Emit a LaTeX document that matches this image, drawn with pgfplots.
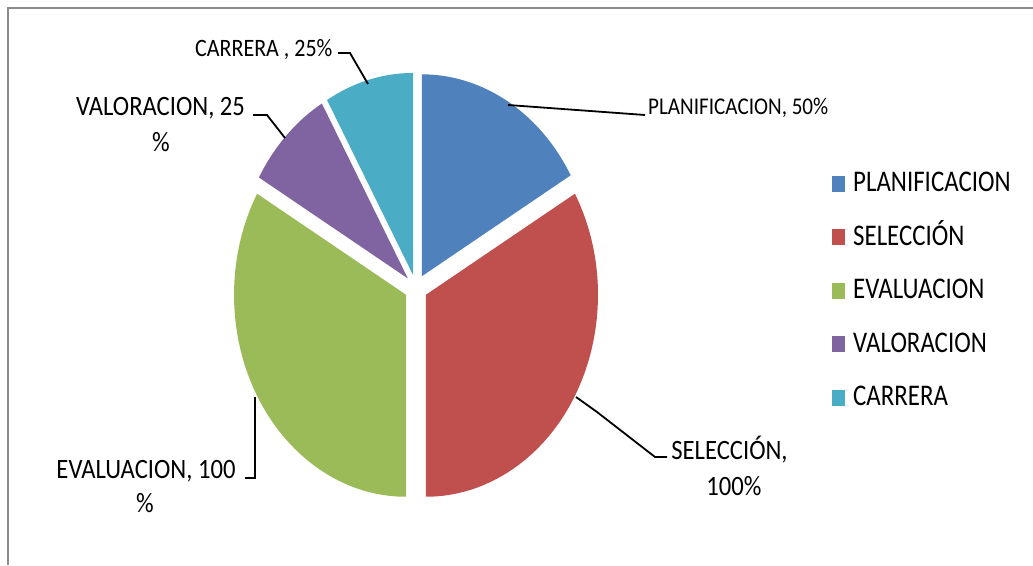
\documentclass[border=0pt]{standalone}
\usepackage{fontspec}
\setmainfont{Carlito}[FakeStretch=0.83]
\newfontfamily\labfont{Carlito}[FakeStretch=0.88]
\usepackage{pgfplots}
\pgfplotsset{compat=1.18}
\definecolor{cPlan}{HTML}{4F81BD}
\definecolor{cSel}{HTML}{C0504D}
\definecolor{cEval}{HTML}{9BBB59}
\definecolor{cVal}{HTML}{8064A2}
\definecolor{cCar}{HTML}{4BACC6}
\definecolor{frame}{HTML}{8C8C8C}
\begin{document}
\begin{tikzpicture}
\useasboundingbox (0,0) rectangle (1033pt,565pt);
\begin{axis}[x=1pt,y=1pt,xmin=0,xmax=1033,ymin=0,ymax=565,
  axis lines=none,clip=false]
% frame (top and left visible)
\draw[frame,line width=2pt] (axis cs:8,0) -- (axis cs:8,557) -- (axis cs:1040,557);
% pie slices: value / colour
\gdef\cum{0}
\foreach \v/\c in {50/cPlan,100/cSel,100/cEval,25/cVal,25/cCar}{
  \pgfmathsetmacro{\a}{90-\cum/300*360}
  \pgfmathsetmacro{\b}{90-(\cum+\v)/300*360}
  \pgfmathsetmacro{\m}{(\a+\b)/2}
  \pgfmathsetmacro{\ox}{416+11.5*cos(\m)}
  \pgfmathsetmacro{\oy}{277+13.5*sin(\m)}
  \edef\temp{\noexpand\fill[\c] (axis cs:\ox,\oy) -- ++(\a:172pt and 202pt) arc[start angle=\a, end angle=\b, x radius=172pt, y radius=202pt] -- cycle;}
  \temp
  \pgfmathsetmacro{\newcum}{\cum+\v}
  \global\let\cum\newcum
}
% leader lines
\draw[black,line width=1.8pt] (axis cs:508,460) -- (axis cs:645,450);
\draw[black,line width=1.8pt] (axis cs:338,512) -- (axis cs:350,512) -- (axis cs:368,481);
\draw[black,line width=1.8pt] (axis cs:253,450) -- (axis cs:267,450) -- (axis cs:285,427);
\draw[black,line width=2pt] (axis cs:245,87) -- (axis cs:255,87) -- (axis cs:255,168);
\draw[black,line width=1.8pt] (axis cs:576,168) -- (axis cs:597,153) -- (axis cs:655,108) -- (axis cs:667,108);
% data labels
\node[anchor=base west,inner sep=0pt,font=\labfont\fontsize{24}{28}\selectfont] at (axis cs:648,450) {PLANIFICACION, 50\%};
\node[anchor=base west,inner sep=0pt,font=\labfont\fontsize{25}{30}\selectfont] at (axis cs:195,508) {CARRERA , 25\%};
\node[anchor=base,inner sep=0pt,font=\labfont\fontsize{28}{32}\selectfont] at (axis cs:160.5,449) {VALORACION, 25};
\node[anchor=base,inner sep=0pt,font=\labfont\fontsize{28}{32}\selectfont] at (axis cs:161,413) {\%};
\node[anchor=base,inner sep=0pt,font=\labfont\fontsize{28}{32}\selectfont] at (axis cs:146,86) {EVALUACION, 100};
\node[anchor=base,inner sep=0pt,font=\labfont\fontsize{28}{32}\selectfont] at (axis cs:145,53) {\%};
\node[anchor=base,inner sep=0pt,font=\labfont\fontsize{28}{32}\selectfont] at (axis cs:729.5,105) {SELECCIÓN,};
\node[anchor=base,inner sep=0pt,font=\labfont\fontsize{28}{32}\selectfont] at (axis cs:734,70) {100\%};
% legend
\foreach \y/\c/\t in {373/cPlan/PLANIFICACION,319.5/cSel/SELECCIÓN,266/cEval/EVALUACION,212.5/cVal/VALORACION,159/cCar/CARRERA}{
  \edef\temp{\noexpand\fill[\c] (axis cs:832,\y) rectangle ++(13pt,16pt);
  \noexpand\node[anchor=base west,inner sep=0pt,font=\noexpand\fontsize{30}{36}\noexpand\selectfont] at (axis cs:853,\y) {\t};}
  \temp
}
\end{axis}
\end{tikzpicture}
\end{document}
